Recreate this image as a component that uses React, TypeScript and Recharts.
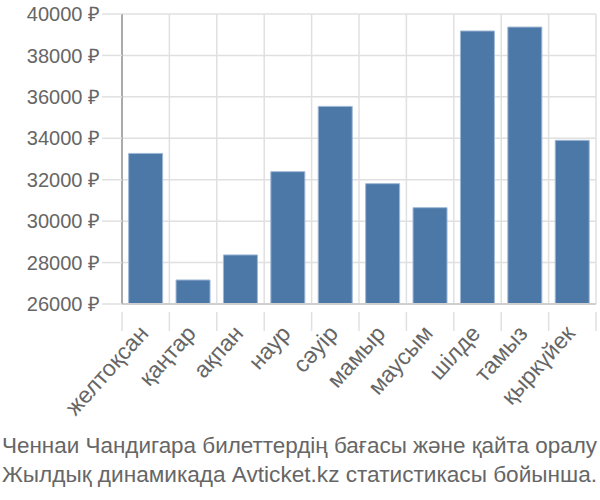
import { BarChart, Bar, XAxis, YAxis, CartesianGrid } from "recharts";

const months = [
  "желтоқсан",
  "қаңтар",
  "ақпан",
  "наур",
  "сәуір",
  "мамыр",
  "маусым",
  "шілде",
  "тамыз",
  "қыркүйек",
];

const prices = [33270, 27160, 28370, 32390, 35540, 31810, 30650, 39180, 39370, 33900];

const yTicks = [26000, 28000, 30000, 32000, 34000, 36000, 38000, 40000];

const captionLines = [
  "Ченнаи Чандигара билеттердің бағасы және қайта оралу",
  "Жылдық динамикада Avticket.kz статистикасы бойынша.",
];

const data = months.map((m, i) => ({ month: m, price: prices[i] }));

const font = "'Liberation Sans', Arial, sans-serif";
const gridColor = "#e0e0e0";

// label plus a boundary tick mark on the left side of each band (and the right side of the last)
function MonthTick(props: any) {
  const { x, y, payload, index } = props;
  const half = payload.offset || 0;
  const last = index === months.length - 1;
  const lx = x - 2;
  const ly = y + 17;
  return (
    <g>
      <line x1={x - half} x2={x - half} y1={y} y2={y + 19} stroke={gridColor} strokeWidth={1.5} />
      {last && <line x1={x + half} x2={x + half} y1={y} y2={y + 19} stroke={gridColor} strokeWidth={1.5} />}
      <text
        x={lx}
        y={ly}
        transform={`rotate(-48, ${lx}, ${ly})`}
        textAnchor="end"
        dominantBaseline="central"
        fill="#666"
        fontSize={23}
        fontFamily={font}
      >
        {payload.value}
      </text>
    </g>
  );
}

export default function App() {
  return (
    <div style={{ position: "absolute", left: 0, top: 0, width: 600, height: 500, background: "#fff" }}>
      <svg width={600} height={500} style={{ position: "absolute", left: 0, top: 0 }}>
        {captionLines.map((l, i) => (
          <text
            key={l}
            x={2}
            y={453 + i * 29}
            textLength={595}
            lengthAdjust="spacingAndGlyphs"
            fill="#666"
            fontSize={22}
            fontFamily={font}
          >
            {l}
          </text>
        ))}
      </svg>
      <div style={{ position: "absolute", left: 0, top: 0 }}>
        <BarChart
          width={600}
          height={430}
          data={data}
          margin={{ top: 14, right: 4, bottom: 0, left: 0 }}
          barCategoryGap="14%"
        >
          <CartesianGrid
            stroke={gridColor}
            strokeWidth={1.5}
            verticalCoordinatesGenerator={({ offset }: any) =>
              Array.from({ length: months.length + 1 }, (_, i) => offset.left + (i * offset.width) / months.length)
            }
          />
          <XAxis
            dataKey="month"
            interval={0}
            height={126}
            tickLine={false}
            axisLine={{ stroke: "#cfcfcf", strokeWidth: 2 }}
            tick={<MonthTick />}
          />
          <YAxis
            width={122}
            domain={[26000, 40000]}
            ticks={yTicks}
            interval={0}
            tickFormatter={(v: number) => `${v} ₽`}
            tickSize={20}
            tickMargin={2}
            tickLine={{ stroke: gridColor, strokeWidth: 1.5 }}
            axisLine={{ stroke: "#aaa", strokeWidth: 2 }}
            tick={{ fill: "#666", fontSize: 20, fontFamily: font }}
          />
          <Bar dataKey="price" fill="#4c78a8" stroke="#9fb8d6" strokeWidth={1} isAnimationActive={false} />
        </BarChart>
      </div>
    </div>
  );
}
